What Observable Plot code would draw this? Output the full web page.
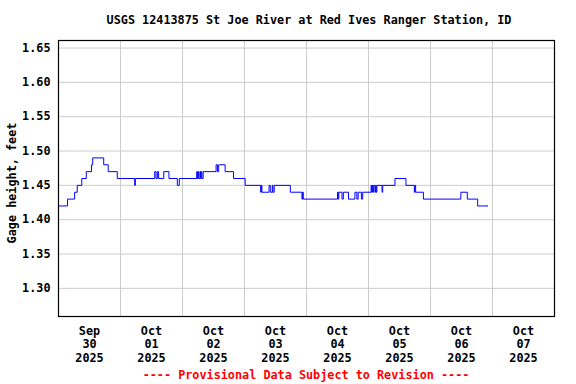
<!DOCTYPE html>
<html><head><meta charset="utf-8">
<script src="https://cdn.jsdelivr.net/npm/d3@7"></script>
<script src="https://cdn.jsdelivr.net/npm/@observablehq/plot@0.6"></script>
<style>
body{margin:0;background:#fff;}
#wrap{position:relative;width:576px;height:384px;font-family:"DejaVu Sans Mono",monospace;font-weight:bold;}
#wrap svg{position:absolute;left:0;top:0;}
#title{position:absolute;left:61px;width:496px;top:13px;line-height:14px;text-align:center;font-size:11.8px;z-index:2;}
#caption{position:absolute;left:58px;width:496px;top:368px;line-height:14px;text-align:center;color:#f00;font-size:11.8px;z-index:2;}
#ylabel{position:absolute;left:-88px;width:200px;top:176px;line-height:14px;text-align:center;font-size:11.8px;transform:rotate(-90deg);transform-origin:50% 50%;z-index:2;}
</style></head><body>
<div id="wrap">
<div id="title">USGS 12413875 St Joe River at Red Ives Ranger Station, ID</div>
<div id="ylabel">Gage height, feet</div>
<div id="caption">---- Provisional Data Subject to Revision ----</div>
</div>
<script>
const times = [
"2025-09-30T00:00","2025-09-30T03:30","2025-09-30T06:15","2025-09-30T07:15","2025-09-30T09:00",
"2025-09-30T10:45","2025-09-30T12:45","2025-09-30T13:15","2025-09-30T17:30","2025-09-30T19:15",
"2025-09-30T22:45","2025-10-01T05:30","2025-10-01T05:45","2025-10-01T13:15","2025-10-01T13:45",
"2025-10-01T14:15","2025-10-01T14:45","2025-10-01T16:45","2025-10-01T18:45","2025-10-01T22:00",
"2025-10-01T22:45","2025-10-02T05:30","2025-10-02T05:45","2025-10-02T06:00","2025-10-02T06:15",
"2025-10-02T06:45","2025-10-02T07:00","2025-10-02T07:15","2025-10-02T07:30","2025-10-02T08:00",
"2025-10-02T13:00","2025-10-02T13:30","2025-10-02T14:00","2025-10-02T16:30","2025-10-02T19:45",
"2025-10-03T00:15","2025-10-03T06:15","2025-10-03T06:30","2025-10-03T06:45","2025-10-03T09:30",
"2025-10-03T10:00","2025-10-03T10:45","2025-10-03T11:00","2025-10-03T11:30","2025-10-03T17:45",
"2025-10-03T22:15","2025-10-03T22:30","2025-10-03T22:45","2025-10-04T12:00","2025-10-04T12:15",
"2025-10-04T12:30","2025-10-04T13:45","2025-10-04T14:15","2025-10-04T16:15","2025-10-04T18:45",
"2025-10-04T19:30","2025-10-04T20:00","2025-10-04T21:15","2025-10-04T21:45","2025-10-05T01:00",
"2025-10-05T01:15","2025-10-05T01:30","2025-10-05T01:45","2025-10-05T02:00","2025-10-05T02:30",
"2025-10-05T02:45","2025-10-05T03:00","2025-10-05T03:15","2025-10-05T05:15","2025-10-05T05:30",
"2025-10-05T10:15","2025-10-05T14:30","2025-10-05T17:45","2025-10-05T18:00","2025-10-05T18:15",
"2025-10-05T21:15","2025-10-06T11:45","2025-10-06T14:15","2025-10-06T18:15","2025-10-06T22:15"
];
const values = [
1.42,1.43,1.44,1.45,1.46,
1.47,1.48,1.49,1.48,1.47,
1.46,1.45,1.46,1.47,1.46,
1.47,1.46,1.47,1.46,1.45,
1.46,1.47,1.46,1.47,1.46,
1.47,1.46,1.47,1.46,1.47,
1.48,1.47,1.48,1.47,1.46,
1.45,1.44,1.45,1.44,1.45,
1.44,1.45,1.44,1.45,1.44,
1.43,1.44,1.43,1.44,1.43,
1.44,1.43,1.44,1.43,1.44,
1.43,1.44,1.43,1.44,1.45,
1.44,1.45,1.44,1.45,1.44,
1.45,1.44,1.45,1.44,1.45,
1.46,1.45,1.44,1.45,1.44,
1.43,1.44,1.43,1.42,1.42
];
const yTicks = [1.30,1.35,1.40,1.45,1.50,1.55,1.60,1.65];
const gridDays = ["2025-10-01","2025-10-02","2025-10-03","2025-10-04","2025-10-05","2025-10-06","2025-10-07"];
const labelDays = ["2025-09-30","2025-10-01","2025-10-02","2025-10-03","2025-10-04","2025-10-05","2025-10-06","2025-10-07"];
const xDomain = ["2025-09-30","2025-10-08"];
const yDomain = [1.259,1.661];

const utc = s => new Date(s.length > 10 ? s + ":00Z" : s + "T00:00:00Z");
const data = times.map((t,i)=>({date:utc(t), value:values[i]}));
const fmt = d3.utcFormat("%b\n%d\n%Y");

const chart = Plot.plot({
  width:576, height:384,
  marginLeft:58, marginRight:22, marginTop:40, marginBottom:68,
  style:{fontFamily:"'DejaVu Sans Mono', monospace", fontWeight:"bold", fontSize:"11.8px", background:"white", color:"black", overflow:"visible"},
  x:{type:"utc", domain:xDomain.map(utc)},
  y:{domain:yDomain},
  marks:[
    Plot.gridX(gridDays.map(utc), {stroke:"#cccccc", strokeOpacity:1}),
    Plot.gridY(yTicks, {stroke:"#cccccc", strokeOpacity:1}),
    Plot.line(data, {x:"date", y:"value", curve:"step-after", stroke:"#0000ff", strokeWidth:1}),
    Plot.frame({stroke:"black", strokeWidth:1.2}),
    Plot.axisY(yTicks, {tickSize:0, tickPadding:8, tickFormat:d3.format(".2f"), label:null}),
    Plot.axisX(labelDays.map(s => new Date(utc(s).getTime() + 12*3600*1000)), {tickSize:0, tickPadding:9, tickFormat:fmt, lineHeight:1.13, label:null})
  ]
});
document.getElementById("wrap").appendChild(chart);
</script>
</body></html>
